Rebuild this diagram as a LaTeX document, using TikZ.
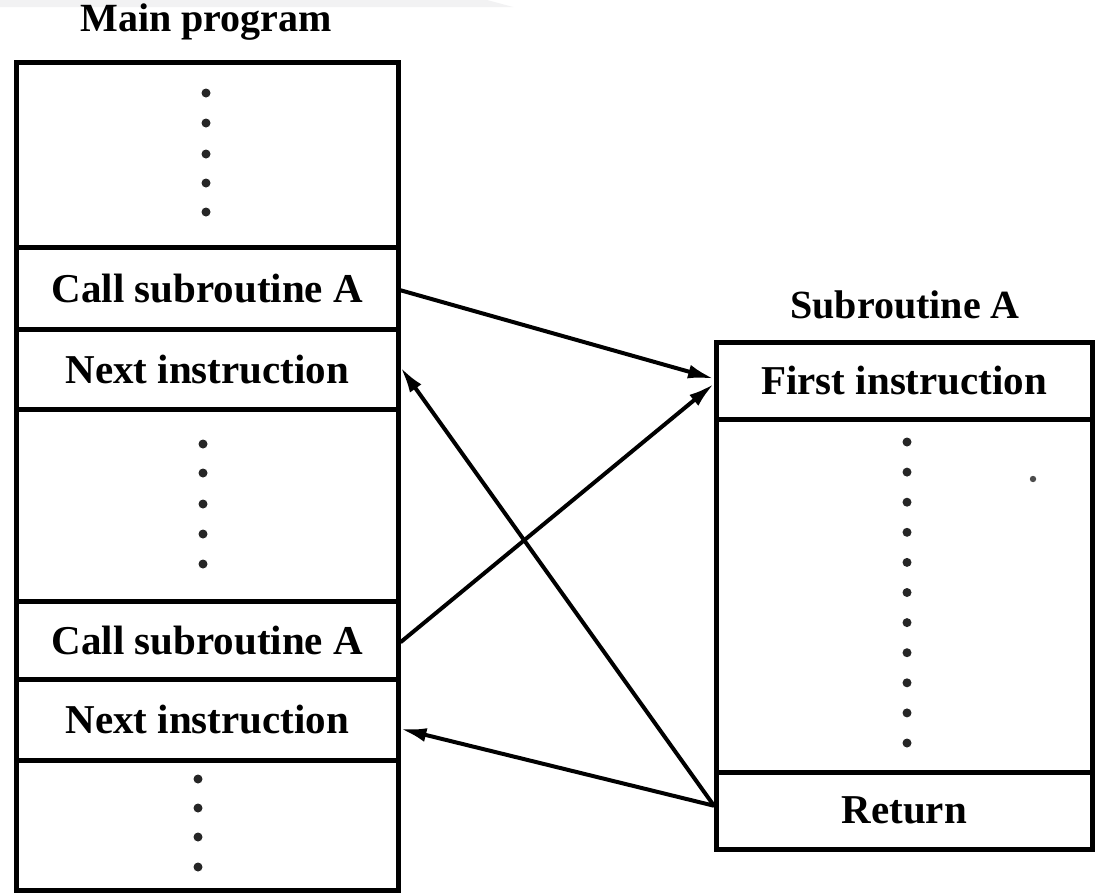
\documentclass[tikz,border=0pt]{standalone}
\usepackage{fontspec}
\setmainfont{Liberation Serif}
\usetikzlibrary{arrows.meta}
\begin{document}
\begin{tikzpicture}[x=1pt,y=-1pt,
  row/.style={draw, line width=4.5pt, rectangle, inner sep=0pt, anchor=north west,
    font=\fontsize{41}{48}\selectfont\bfseries},
  lbl/.style={inner sep=0pt, font=\fontsize{40}{48}\selectfont\bfseries},
  conn/.style={line width=4pt, -{Latex[length=26pt,width=14pt]}},
  dotm/.style={fill=black!85, draw=none}
]
\useasboundingbox (0,0) rectangle (1097,894);
\fill[white] (0,0) rectangle (1097,894);
\fill[blue!4!gray!10] (0,0) -- (487,0) -- (513,7) -- (0,7) -- cycle;

% Main program column
\node[row, minimum width=382pt, minimum height=185pt] (mdotsA) at (14,60) {};
\node[row, minimum width=382pt, minimum height=82pt] (callA) at (14,245) {\raisebox{-3pt}{Call subroutine A}};
\node[row, minimum width=382pt, minimum height=80pt] (nextA) at (14,327) {Next instruction};
\node[row, minimum width=382pt, minimum height=192pt] (mdotsB) at (14,407) {};
\node[row, minimum width=382pt, minimum height=78pt] (callB) at (14,599) {Call subroutine A};
\node[row, minimum width=382pt, minimum height=81pt] (nextB) at (14,677) {Next instruction};
\node[row, minimum width=382pt, minimum height=130pt] (mdotsC) at (14,758) {};
\node[lbl] (mainlbl) at (206,22) {Main program};

% Subroutine column
\node[row, minimum width=376pt, minimum height=77pt] (first) at (714,340) {First instruction};
\node[row, minimum width=376pt, minimum height=353pt] (sdots) at (714,417) {};
\node[row, minimum width=376pt, minimum height=77pt] (ret) at (714,770) {Return};
\node[lbl] (sublbl) at (905,305) {Subroutine A};

% dots
\foreach \y in {93,123,154,183,212} \fill[dotm] (206,\y) circle (4.5pt);
\foreach \y in {444,473,504,534,564} \fill[dotm] (203,\y) circle (4.5pt);
\foreach \y in {779,808,837,867} \fill[dotm] (198,\y) circle (4.5pt);
\foreach \i in {0,...,10} \fill[dotm] (907,442+30.1*\i) circle (4.5pt);
\fill[black!70] (1033,479) circle (3.2pt);

% connectors
\draw[conn] ([yshift=-2pt]callA.east) -- ([yshift=2pt]first.west);
\draw[conn] ([yshift=-2pt]callB.east) -- ([yshift=-3pt]first.west);
\draw[conn] ([yshift=5pt]ret.west) -- ([yshift=2pt]nextA.east);
\draw[conn] ([yshift=5pt]ret.west) -- ([yshift=-9pt]nextB.east);
\end{tikzpicture}
\end{document}
